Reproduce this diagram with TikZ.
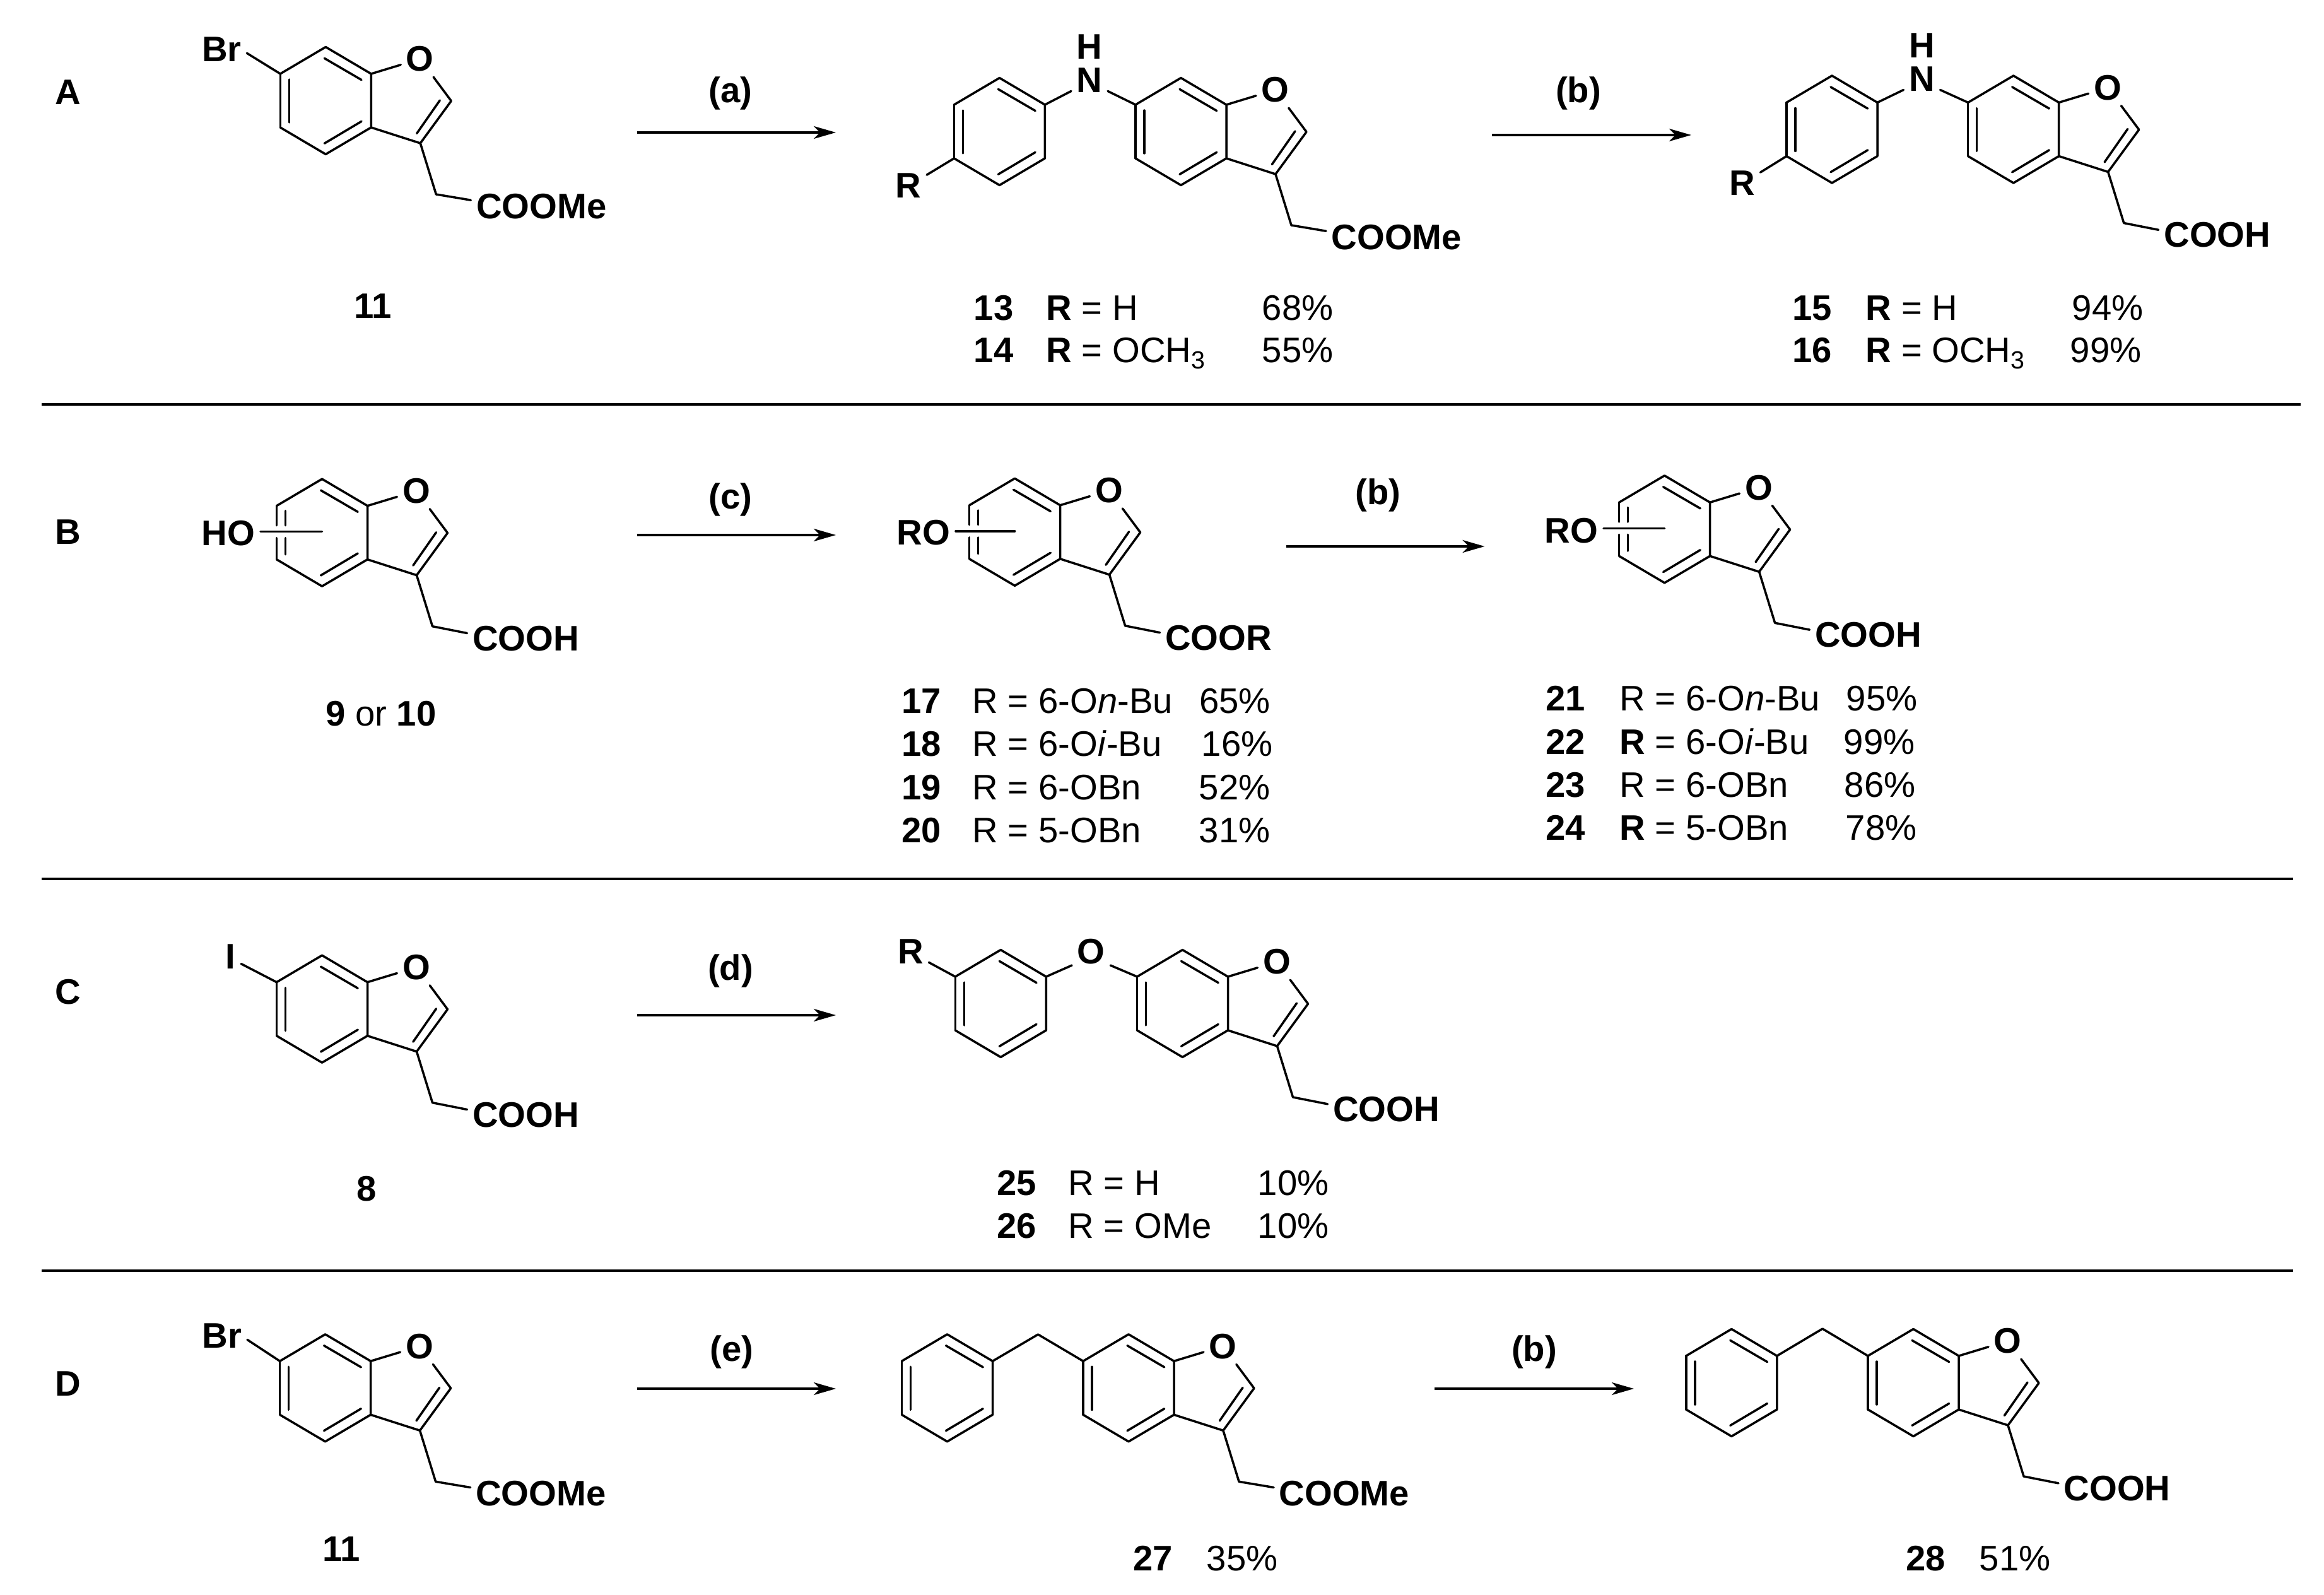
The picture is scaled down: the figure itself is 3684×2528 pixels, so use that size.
\documentclass[tikz,border=0pt]{standalone}
\usepackage{fontspec}
\setmainfont{Liberation Sans}
\usetikzlibrary{arrows.meta}
\tikzstyle{bond} = [draw=black, line width=0.035cm, line cap=round, line join=round]
\tikzstyle{rxnarrow} = [draw=black, line width=0.035cm, -{Stealth[length=0.35cm,width=0.2cm,inset=0.1cm]}]
\tikzstyle{sepline} = [draw=black, line width=0.045cm]
\tikzstyle{atomlabel} = [font=\fontsize{16}{18}\selectfont\bfseries, inner sep=0.08cm]
\tikzstyle{panellabel} = [font=\fontsize{16}{18}\selectfont\bfseries, inner sep=0pt]
\tikzstyle{cmpdnum} = [font=\fontsize{16}{18}\selectfont\bfseries, inner sep=0pt, anchor=base]
\tikzstyle{subst} = [font=\fontsize{16}{18}\selectfont, inner sep=0pt, anchor=base west]

% six-membered ring, placed by its upper right corner
\newcommand{\benzring}[3]{
    \begin{scope}[shift={(#2,#3)}]
        \coordinate (#1a) at (0,0);
        \coordinate (#1b) at (-72,-42.5);
        \coordinate (#1c) at (-144,0);
        \coordinate (#1d) at (-144,85);
        \coordinate (#1e) at (-72,127.5);
        \coordinate (#1f) at (0,85);
        \coordinate (#1mid) at (-72,41);
        \draw[bond] (#1c) -- (#1b) -- (#1a) -- (#1f) -- (#1e) -- (#1d);
        \draw[bond] (-74,-24.6) -- (-15.3,9.6);
        \draw[bond] (-15.3,75.4) -- (-74,110.3);
    \end{scope}
}
\newcommand{\leftdbl}[1]{
    \draw[bond] (#1c) -- (#1d);
    \draw[bond] ([xshift=0.14cm,yshift=-0.09cm]#1c) -- ([xshift=0.14cm,yshift=0.08cm]#1d);
}
\newcommand{\leftgap}[1]{
    \draw[bond] (#1c) -- ([yshift=0.1cm]#1mid -| #1c);
    \draw[bond] ([yshift=-0.1cm]#1mid -| #1d) -- (#1d);
    \draw[bond] ([xshift=0.14cm,yshift=-0.08cm]#1c) -- ([xshift=0.14cm,yshift=0.1cm]#1mid -| #1c);
    \draw[bond] ([xshift=0.14cm,yshift=-0.1cm]#1mid -| #1d) -- ([xshift=0.14cm,yshift=0.08cm]#1d);
}
\newcommand{\bfuran}[5][\leftdbl]{
    \benzring{#2}{#3}{#4}
    #1{#2}
    \begin{scope}[shift={(#3,#4)}]
        \node[atomlabel] (#2O) at (77.5,-23.5) {O};
        \coordinate (#2ctwo) at (127,43);
        \coordinate (#2cthree) at (78,110);
        \coordinate (#2chtwo) at (103,191);
        \node[atomlabel, anchor=west] (#2tail) at (158,210) {#5};
        \draw[bond] (#2a) -- (#2O) -- (#2ctwo) -- (#2cthree) -- (#2f);
        \draw[bond] (109,42) -- (72.4,94.5);
        \draw[bond] (#2cthree) -- (#2chtwo) -- (#2tail.175);
    \end{scope}
}
\newcommand{\cmpdrow}[7]{
    \node[cmpdnum] (n#1) at (#2,#3) {#1};
    \node[subst] (s#1) at (#4,#3) {#5};
    \node[subst] (y#1) at (#6,#3) {#7};
}

\begin{document}
\begin{tikzpicture}[x=0.01cm, y=-0.01cm]
    \useasboundingbox (0,0) rectangle (3684,2528);

    \node[panellabel] (panelA) at (108,146) {A};
    \node[panellabel] (panelB) at (108,843) {B};
    \node[panellabel] (panelC) at (108,1572) {C};
    \node[panellabel] (panelD) at (108,2193) {D};

    % A
    \bfuran{aone}{588.3}{117}{COOMe}
    \node[atomlabel] (aoneBr) at (351.5,78) {Br};
    \draw[bond] (aonec) -- (aoneBr.-9);
    \node[cmpdnum] (naone) at (591,505) {11};

    \coordinate (astart) at (1010,210);
    \coordinate (aend) at (1325,210);
    \draw[rxnarrow] (astart) -- (aend);
    \node[panellabel] (labela) at (1158,148) {(a)};

    \bfuran{atwo}{1944}{166}{COOMe}
    \benzring{atwop}{1656.4}{166}
    \leftdbl{atwop}
    \node[atomlabel] (atwoN) at (1727,127) {N};
    \node[panellabel] (atwoH) at (1727,74) {H};
    \node[atomlabel] (atwoR) at (1440,294) {R};
    \draw[bond] (atwopa) -- (atwoN.-149);
    \draw[bond] (atwoN.-31) -- (atwoc);
    \draw[bond] (atwopd) -- (atwoR.30);
    \cmpdrow{13}{1575}{508}{1658}{\textbf{R} = H}{2000}{68\%}
    \cmpdrow{14}{1575}{575}{1658}{\textbf{R} = OCH\textsubscript{3}}{2000}{55\%}

    \coordinate (bstart) at (2365,214);
    \coordinate (bend) at (2681,214);
    \draw[rxnarrow] (bstart) -- (bend);
    \node[panellabel] (labelb) at (2502,148) {(b)};

    \bfuran{athree}{3263.7}{162.5}{COOH}
    \benzring{athreep}{2976}{162.5}
    \leftdbl{athreep}
    \node[atomlabel] (athreeN) at (3046.5,125) {N};
    \node[panellabel] (athreeH) at (3046.5,72) {H};
    \node[atomlabel] (athreeR) at (2761.5,290) {R};
    \draw[bond] (athreepa) -- (athreeN.-149);
    \draw[bond] (athreeN.-31) -- (athreec);
    \draw[bond] (athreepd) -- (athreeR.30);
    \cmpdrow{15}{2872.6}{508}{2957}{\textbf{R} = H}{3284}{94\%}
    \cmpdrow{16}{2872.6}{575}{2957}{\textbf{R} = OCH\textsubscript{3}}{3281}{99\%}

    \draw[sepline] (66,641) coordinate (ruleAs) -- (3647,641) coordinate (ruleAe);

    % B
    \bfuran[\leftgap]{bone}{582.5}{801.7}{COOH}
    \node[atomlabel, anchor=east] (boneHO) at (413,845) {HO};
    \draw[bond] (boneHO.east |- bonemid) -- (bonemid);
    \node[subst] (nbone) at (515.6,1150) {\textbf{9} or \textbf{10}};

    \coordinate (cstart) at (1010,848);
    \coordinate (cend) at (1325,848);
    \draw[rxnarrow] (cstart) -- (cend);
    \node[panellabel] (labelc) at (1158,792) {(c)};

    \bfuran[\leftgap]{btwo}{1680.6}{800.8}{COOR}
    \node[atomlabel, anchor=east] (btwoRO) at (1515,844.5) {RO};
    \draw[bond] (btwoRO.east |- btwomid) -- (btwomid);
    \cmpdrow{17}{1460.6}{1130}{1541}{R = 6-O\textit{n}-Bu}{1900.6}{65\%}
    \cmpdrow{18}{1460.6}{1198}{1541}{R = 6-O\textit{i}-Bu}{1904}{16\%}
    \cmpdrow{19}{1460.6}{1267}{1541}{R = 6-OBn}{1900}{52\%}
    \cmpdrow{20}{1460.6}{1335}{1541}{R = 5-OBn}{1900}{31\%}

    \coordinate (btwostart) at (2039,866);
    \coordinate (btwoend) at (2353.5,866);
    \draw[rxnarrow] (btwostart) -- (btwoend);
    \node[panellabel] (labelbtwo) at (2184.4,785) {(b)};

    \bfuran[\leftgap]{bthree}{2710.6}{796.3}{COOH}
    \node[atomlabel, anchor=east] (bthreeRO) at (2542,841.6) {RO};
    \draw[bond] (bthreeRO.east |- bthreemid) -- (bthreemid);
    \cmpdrow{21}{2481.6}{1126}{2567}{R = 6-O\textit{n}-Bu}{2926}{95\%}
    \cmpdrow{22}{2481.6}{1195}{2567}{\textbf{R} = 6-O\textit{i}-Bu}{2922}{99\%}
    \cmpdrow{23}{2481.6}{1263}{2567}{R = 6-OBn}{2923}{86\%}
    \cmpdrow{24}{2481.6}{1331}{2567}{\textbf{R} = 5-OBn}{2925}{78\%}

    \draw[sepline] (66,1393) coordinate (ruleBs) -- (3635,1393) coordinate (ruleBe);

    % C
    \bfuran{cone}{582.5}{1556.7}{COOH}
    \node[atomlabel] (coneI) at (365.7,1516) {I};
    \draw[bond] (conec) -- (coneI.-35);
    \node[cmpdnum] (ncone) at (581,1903) {8};

    \coordinate (dstart) at (1010,1609);
    \coordinate (dend) at (1325,1609);
    \draw[rxnarrow] (dstart) -- (dend);
    \node[panellabel] (labeld) at (1158,1539) {(d)};

    \bfuran{ctwo}{1946.5}{1548}{COOH}
    \benzring{ctwop}{1658.3}{1548}
    \leftdbl{ctwop}
    \node[atomlabel] (ctwoO) at (1729.7,1508.6) {O};
    \node[atomlabel] (ctwoR) at (1443.4,1508.6) {R};
    \draw[bond] (ctwopa) -- (ctwoO.-145);
    \draw[bond] (ctwoO.-35) -- (ctwoc);
    \draw[bond] (ctwopc) -- (ctwoR.-30);
    \cmpdrow{25}{1611.7}{1894}{1693}{R = H}{1993}{10\%}
    \cmpdrow{26}{1611.7}{1962}{1693}{R = OMe}{1993}{10\%}

    \draw[sepline] (66,2014) coordinate (ruleCs) -- (3635,2014) coordinate (ruleCe);

    % D
    \bfuran{done}{587.6}{2157.3}{COOMe}
    \node[atomlabel] (doneBr) at (352,2117) {Br};
    \draw[bond] (donec) -- (doneBr.-9);
    \node[cmpdnum] (ndone) at (541,2474) {11};

    \coordinate (estart) at (1010,2201);
    \coordinate (eend) at (1325,2201);
    \draw[rxnarrow] (estart) -- (eend);
    \node[panellabel] (labele) at (1160,2143) {(e)};

    \bfuran{dtwo}{1861}{2157.3}{COOMe}
    \benzring{dtwop}{1573.5}{2157.3}
    \leftdbl{dtwop}
    \coordinate (dtwoch) at (1645.5,2115);
    \draw[bond] (dtwopa) -- (dtwoch) -- (dtwoc);
    \node[cmpdnum] (n27) at (1827.3,2489) {27};
    \node[subst] (y27) at (1912,2489) {35\%};

    \coordinate (dbstart) at (2274,2201);
    \coordinate (dbend) at (2590,2201);
    \draw[rxnarrow] (dbstart) -- (dbend);
    \node[panellabel] (labelbd) at (2432,2143) {(b)};

    \bfuran{dthree}{3105}{2149}{COOH}
    \benzring{dthreep}{2816.8}{2149}
    \leftdbl{dthreep}
    \coordinate (dthreech) at (2889,2106);
    \draw[bond] (dthreepa) -- (dthreech) -- (dthreec);
    \node[cmpdnum] (n28) at (3052.8,2489) {28};
    \node[subst] (y28) at (3137,2489) {51\%};
\end{tikzpicture}
\end{document}
